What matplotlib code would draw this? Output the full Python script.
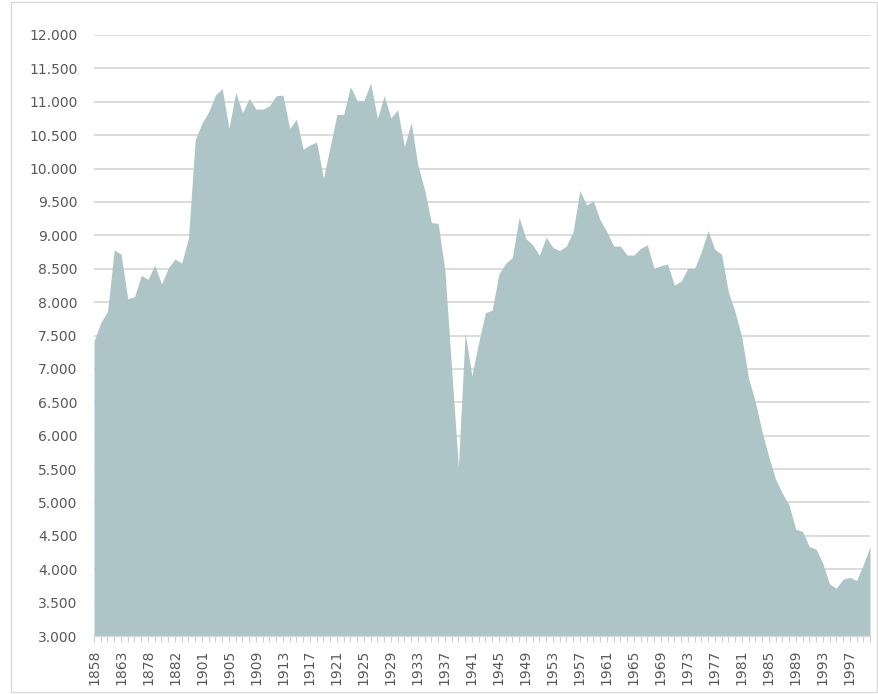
import numpy as np
import matplotlib.pyplot as plt
from matplotlib.ticker import FuncFormatter
from matplotlib.patches import Rectangle

# years: irregular before 1901, yearly afterwards
early_years = [1858, 1859, 1860, 1861, 1863, 1866, 1870, 1875,
               1878, 1879, 1880, 1881, 1882, 1890, 1895, 1900]
years = early_years + list(range(1901, 2001))

values = [7415, 7690, 7860, 8780, 8720, 8050, 8080, 8400, 8340, 8555,
          8270, 8510, 8645, 8585, 8965, 10430, 10680, 10850, 11100, 11200,
          10600, 11140, 10835, 11050, 10890, 10890, 10940, 11090, 11100, 10600,
          10740, 10290, 10355, 10395, 9855, 10330, 10810, 10810, 11225, 11020,
          11020, 11280, 10750, 11090, 10760, 10880, 10330, 10690, 10050, 9680,
          9190, 9180, 8480, 7000, 5530, 7540, 6900, 7390, 7840, 7880,
          8420, 8580, 8670, 9270, 8950, 8860, 8700, 8970, 8820, 8770,
          8840, 9055, 9670, 9455, 9515, 9230, 9055, 8840, 8840, 8705,
          8705, 8805, 8855, 8505, 8545, 8570, 8255, 8315, 8505, 8505,
          8755, 9070, 8790, 8720, 8155, 7855, 7480, 6860, 6510, 6060,
          5685, 5350, 5140, 4960, 4600, 4565, 4340, 4300, 4090, 3780,
          3715, 3850, 3880, 3830, 4065, 4340]

x = np.arange(len(years))
y0, y1 = 3000, 12000

fig = plt.figure(figsize=(8.79, 6.94), dpi=100)
ax = fig.add_axes([94/879, 58/694, 776/879, 601/694])

ax.fill_between(x, y0, values, color='#adc5c7', linewidth=0, zorder=2)

ax.set_xlim(0, len(years) - 1)
ax.set_ylim(y0, y1)
ax.set_yticks(np.arange(y0, y1 + 1, 500))
ax.yaxis.set_major_formatter(FuncFormatter(lambda v, p: f'{int(v):,}'.replace(',', '.')))
ax.grid(axis='y', color='#d9d9d9', linewidth=1.3, zorder=1)
ax.set_axisbelow(True)

ax.set_xticks(x)
ax.set_xticklabels([str(yr) if i % 4 == 0 else '' for i, yr in enumerate(years)],
                   rotation=90)

for s in ['top', 'right', 'left']:
    ax.spines[s].set_visible(False)
ax.spines['bottom'].set_color('#d9d9d9')
ax.spines['bottom'].set_linewidth(1.0)

ax.tick_params(axis='y', length=0, pad=12, labelsize=10, labelcolor='#595959')
ax.tick_params(axis='x', length=4, width=0.8, color='#d0d0d0', pad=6,
               labelsize=10, labelcolor='#595959')

# chart border
fig.patches.append(Rectangle((11/879, 2/694), 866/879, 690/694, transform=fig.transFigure,
                             fill=False, edgecolor='#d9d9d9', linewidth=1))

fig.savefig('out.png', dpi=100)
